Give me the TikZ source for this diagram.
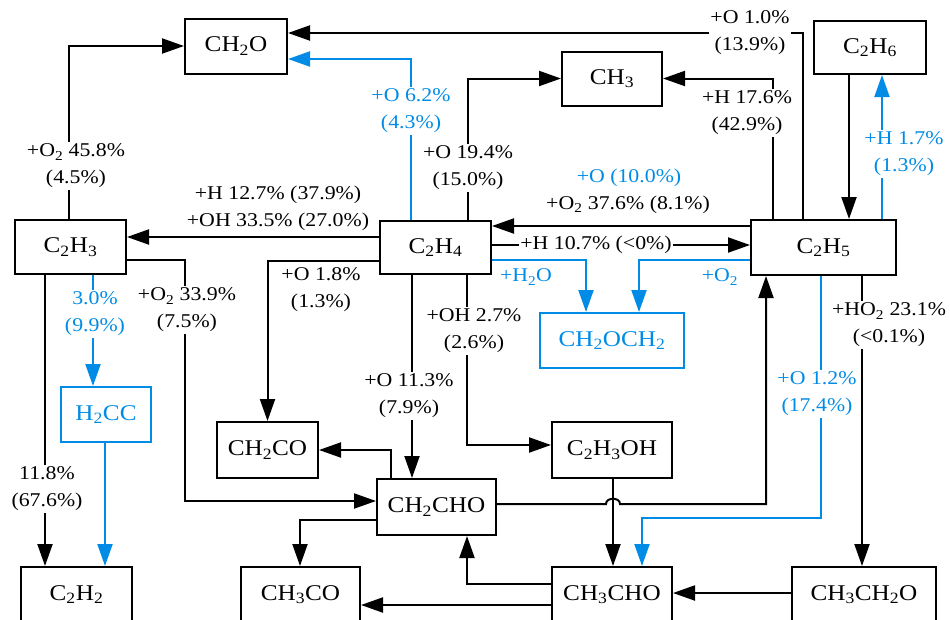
\documentclass[tikz,border=0pt]{standalone}
\usepackage{fontspec}
\setmainfont{Liberation Serif}[FakeStretch=1.12]
\usetikzlibrary{arrows.meta}
\definecolor{bl}{RGB}{0,140,230}
\begin{document}
\begin{tikzpicture}[x=1pt,y=-1pt,
  box/.style={draw, line width=2pt, minimum height=55pt, inner sep=0pt, font=\fontsize{22.5}{24}\selectfont},
  bbox/.style={box, draw=bl, text=bl},
  lab/.style={font=\fontsize{19.5}{27}\selectfont, align=center, inner sep=1.5pt},
  wl/.style={lab, fill=white},
  bt/.style={text=bl},
  ln/.style={line width=2pt},
  arr/.style={ln, -{Triangle[length=22pt,width=15pt]}},
  barr/.style={arr, draw=bl},
]
\useasboundingbox (0,0) rectangle (950,619);
\clip (0,0) rectangle (950,619);

% nodes
\node[box, minimum width=102pt] (ch2o) at (236,46) {CH\textsubscript{2}O};
\node[box, minimum width=100pt, minimum height=54pt] (ch3) at (612,78.5) {CH\textsubscript{3}};
\node[box, minimum width=112pt, minimum height=53pt] (c2h6) at (870,47.5) {C\textsubscript{2}H\textsubscript{6}};
\node[box, minimum width=111pt, minimum height=54pt] (c2h3) at (70.5,247) {C\textsubscript{2}H\textsubscript{3}};
\node[box, minimum width=111pt, minimum height=53pt] (c2h4) at (435.5,247.5) {C\textsubscript{2}H\textsubscript{4}};
\node[box, minimum width=145pt] (c2h5) at (823.5,247.5) {C\textsubscript{2}H\textsubscript{5}};
\node[bbox, minimum width=144pt] (ch2och2) at (612,340.5) {CH\textsubscript{2}OCH\textsubscript{2}};
\node[bbox, minimum width=90pt] (h2cc) at (106,414.5) {H\textsubscript{2}CC};
\node[box, minimum width=101pt, minimum height=56pt] (ch2co) at (267.5,450) {CH\textsubscript{2}CO};
\node[box, minimum width=119pt, minimum height=56pt] (ch2cho) at (436.5,507) {CH\textsubscript{2}CHO};
\node[box, minimum width=120pt, minimum height=56pt] (c2h3oh) at (612,450) {C\textsubscript{2}H\textsubscript{3}OH};
\node[box, minimum width=111pt] (c2h2) at (76.5,594.5) {C\textsubscript{2}H\textsubscript{2}};
\node[box, minimum width=119pt] (ch3co) at (300.5,594.5) {CH\textsubscript{3}CO};
\node[box, minimum width=120pt] (ch3cho) at (612,594.5) {CH\textsubscript{3}CHO};
\node[box, minimum width=144pt] (ch3ch2o) at (864,594.5) {CH\textsubscript{3}CH\textsubscript{2}O};

% connectors
\draw[arr] (c2h3.north -| 69,0) |- (ch2o.west);
\draw[arr] (c2h5.north -| 803,0) |- (ch2o.east |- 0,33);
\draw[barr] (c2h4.north -| 411,0) |- (ch2o.east |- 0,59);
\draw[arr] (c2h4.north -| 468,0) |- (ch3.west);
\draw[arr] (c2h5.north -| 773,0) |- (ch3.east);
\draw[arr] (c2h6.south -| 849,0) -- (c2h5.north -| 849,0);
\draw[barr] (c2h5.north -| 882,0) -- (c2h6.south -| 882,0);
\draw[arr] (c2h5.west |- 0,226) -- (c2h4.east |- 0,226);
\draw[arr] (c2h4.east |- 0,245) -- (c2h5.west |- 0,245);
\draw[barr] (c2h4.east |- 0,260) -| (ch2och2.north -| 586,0);
\draw[barr] (c2h5.west |- 0,260) -| (ch2och2.north -| 639,0);
\draw[arr] (c2h4.west |- 0,237) -- (c2h3.east |- 0,237);
\draw[arr] (c2h4.west |- 0,261) -| (ch2co.north);
\draw[arr] (c2h3.east |- 0,260) -| (185,501) -- (ch2cho.west |- 0,501);
\draw[arr] (c2h4.south -| 412,0) -- (ch2cho.north -| 412,0);
\draw[arr] (c2h4.south -| 467,0) |- (c2h3oh.west |- 0,445);
\draw[arr] (c2h3oh.south -| 613,0) -- (ch3cho.north -| 613,0);
\draw[arr] (ch2cho.east |- 0,504) -- (606,504) .. controls (606,497) and (620,497) .. (620,504) -| (c2h5.south -| 766,0);
\draw[arr] (c2h3.south -| 45,0) -- (c2h2.north -| 45,0);
\draw[barr] (c2h3.south -| 93,0) -- (h2cc.north -| 93,0);
\draw[barr] (h2cc.south -| 105,0) -- (c2h2.north -| 105,0);
\draw[barr] (c2h5.south -| 821,0) -- (821,518) -| (ch3cho.north -| 642,0);
\draw[arr] (c2h5.south -| 862,0) -- (ch3ch2o.north -| 862,0);
\draw[arr] (ch3ch2o.west |- 0,593) -- (ch3cho.east |- 0,593);
\draw[arr] (ch3cho.west |- 0,584) -| (ch2cho.south -| 467,0);
\draw[arr] (ch3cho.west |- 0,605) -- (ch3co.east |- 0,605);
\draw[arr] (ch2cho.north -| 391,0) |- (ch2co.east);
\draw[arr] (ch2cho.west |- 0,520) -| (ch3co.north -| 300,0);

% labels
\node[wl] (l1) at (76,166) {+O\textsubscript{2} 45.8\%\\(4.5\%)};
\node[wl] (l2) at (750,33) {+O 1.0\%\\(13.9\%)};
\node[wl, bt] (l3) at (411,111) {+O 6.2\%\\(4.3\%)};
\node[wl] (l4) at (468,168) {+O 19.4\%\\(15.0\%)};
\node[wl] (l5) at (747,113) {+H 17.6\%\\(42.9\%)};
\node[wl, bt] (l6) at (904,154) {+H 1.7\%\\(1.3\%)};
\node[lab, bt] (l7) at (629,178) {+O (10.0\%)};
\node[lab] (l8) at (628,205) {+O\textsubscript{2} 37.6\% (8.1\%)};
\node[wl] (l9) at (596,245) {+H 10.7\% (<0\%)};
\node[lab, bt] (l10) at (526,277) {+H\textsubscript{2}O};
\node[lab, bt] (l11) at (720,277) {+O\textsubscript{2}};
\node[lab] (l12) at (278,208) {+H 12.7\% (37.9\%)\\+OH 33.5\% (27.0\%)};
\node[lab] (l13) at (321,290) {+O 1.8\%\\(1.3\%)};
\node[wl] (l14) at (187,310) {+O\textsubscript{2} 33.9\%\\(7.5\%)};
\node[wl, bt] (l15) at (95,314) {3.0\%\\(9.9\%)};
\node[wl] (l16) at (409,396) {+O 11.3\%\\(7.9\%)};
\node[wl] (l17) at (474,331) {+OH 2.7\%\\(2.6\%)};
\node[wl] (l18) at (47,489) {11.8\%\\(67.6\%)};
\node[wl, bt] (l19) at (817,394) {+O 1.2\%\\(17.4\%)};
\node[wl] (l20) at (889,325) {+HO\textsubscript{2} 23.1\%\\(<0.1\%)};
\end{tikzpicture}
\end{document}
